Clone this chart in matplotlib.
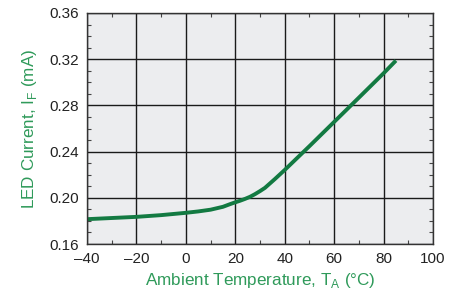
import numpy as np
from matplotlib import pyplot as plt
from matplotlib.ticker import MultipleLocator

# values
temps = [-40, -30, -20, -10, 0, 5, 10, 15, 18, 20, 22, 24, 26, 28, 30, 32, 36, 40, 50, 60, 70, 80, 85]
current = [0.1815, 0.1825, 0.1835, 0.185, 0.187, 0.1882, 0.1897, 0.1922, 0.1946, 0.1961, 0.1975, 0.1991,
           0.2009, 0.2032, 0.2058, 0.2086, 0.2162, 0.2241, 0.2447, 0.2657, 0.2867, 0.3078, 0.3188]

x_ticks = [-40, -20, 0, 20, 40, 60, 80, 100]
y_ticks = [0.16, 0.20, 0.24, 0.28, 0.32, 0.36]

GREEN = "#137a42"
LABEL_GREEN = "#2f9a5a"

plt.rcParams['font.family'] = ['Liberation Sans', 'DejaVu Sans']

fig = plt.figure(figsize=(4.58, 2.97), dpi=100)
ax = fig.add_axes([87 / 458, 1 - 244 / 297, 346 / 458, 231 / 297])
ax.set_facecolor("#ecedef")

ax.plot(temps, current, color=GREEN, lw=2.8, solid_capstyle="butt", solid_joinstyle="round")

ax.set_xlim(-40, 100)
ax.set_ylim(0.16, 0.36)
ax.set_xticks(x_ticks)
ax.set_yticks(y_ticks)
ax.set_xticklabels(["\u201340", "\u201320", "0", "20", "40", "60", "80", "100"])
ax.set_yticklabels(["%.2f" % v for v in y_ticks])
ax.xaxis.set_minor_locator(MultipleLocator(10))
ax.yaxis.set_minor_locator(MultipleLocator(0.01))
ax.tick_params(which="both", direction="in", top=True, right=True, labelsize=11, colors="#222222")
ax.tick_params(which="major", length=0, pad=6)
ax.tick_params(which="minor", length=3, width=0.8, color="#444444")
ax.grid(True, which="major", color="#1a1a1a", lw=1.0)

for s in ax.spines.values():
    s.set_color("#333333")
    s.set_linewidth(1.0)

ax.set_xlabel("Ambient Temperature, T$_\\mathregular{A}$ (\u00b0C)", color=LABEL_GREEN, fontsize=12.3, labelpad=3)
ax.set_ylabel("LED Current, I$_\\mathregular{F}$ (mA)", color=LABEL_GREEN, fontsize=12.3, labelpad=7)

fig.savefig("out.png", dpi=100)
